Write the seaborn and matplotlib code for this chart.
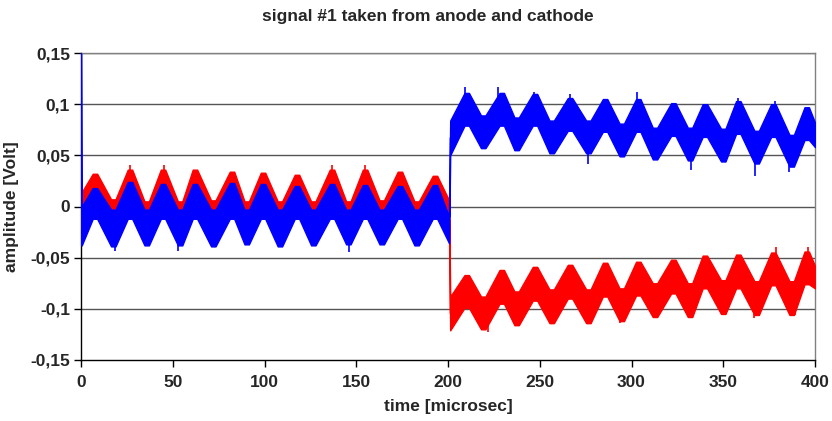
import numpy as np
import pandas as pd
import matplotlib
matplotlib.use("Agg")
import matplotlib.pyplot as plt
import seaborn as sns

# ---- data ----
# Each noisy trace is described by its envelope: short plateau segments (start..end time)
# around every peak / trough, with the low and high edge of the noise band there.
seg_start = [0, 0.4, 6.4, 16.4, 25.5, 34.6, 43.5, 52.8, 60.9, 70.9, 81.1, 89.1, 98.0, 107.2,
             116.5, 125.4, 135.6, 144.5, 153.6, 162.7, 172.6, 181.7, 191.7, 200.6,
             201.2, 209.0, 218.0, 228.1, 236.2, 246.2, 255.3, 265.3, 275.3, 284.4, 293.5,
             302.5, 311.6, 321.6, 330.7, 338.8, 348.8, 357.0, 367.0, 376.1, 386.1, 394.3, 400]
seg_end = [0, 0.4, 8.8, 18.8, 27.9, 37.0, 45.9, 55.2, 63.3, 73.3, 83.5, 91.5, 100.4, 109.6,
           118.9, 127.8, 138.0, 146.9, 156.0, 165.1, 175.0, 184.1, 194.1, 200.6,
           201.2, 211.4, 220.4, 230.5, 238.6, 248.6, 257.7, 267.7, 277.7, 286.8, 295.9,
           304.9, 314.0, 324.0, 333.1, 341.2, 351.2, 359.4, 369.4, 378.5, 388.5, 396.7, 400]

red_low = [-0.012, -0.012, -0.002, -0.014, 0.000, -0.014, 0.000, -0.014, 0.000, -0.014,
           0.000, -0.014, -0.001, -0.014, -0.001, -0.014, 0.000, -0.014, 0.000, -0.014,
           0.000, -0.014, -0.001, -0.012,
           -0.121, -0.099, -0.120, -0.095, -0.116, -0.092, -0.114, -0.090, -0.114, -0.088,
           -0.112, -0.087, -0.108, -0.085, -0.108, -0.080, -0.105, -0.080, -0.106, -0.077,
           -0.106, -0.076, -0.080]
red_high = [0.014, 0.014, 0.032, 0.007, 0.036, 0.005, 0.036, 0.005, 0.036, 0.006,
            0.034, 0.005, 0.033, 0.005, 0.031, 0.005, 0.036, 0.005, 0.036, 0.006,
            0.034, 0.005, 0.030, 0.006,
            -0.088, -0.067, -0.088, -0.062, -0.083, -0.059, -0.081, -0.057, -0.081, -0.055,
            -0.080, -0.054, -0.075, -0.052, -0.075, -0.048, -0.072, -0.047, -0.073, -0.045,
            -0.073, -0.044, -0.058]

blue_low = [-0.038, -0.038, -0.012, -0.039, -0.012, -0.038, -0.012, -0.038, -0.012, -0.039,
            -0.012, -0.037, -0.012, -0.039, -0.012, -0.038, -0.012, -0.037, -0.012, -0.037,
            -0.012, -0.038, -0.012, -0.036,
            0.050, 0.079, 0.057, 0.079, 0.055, 0.079, 0.052, 0.074, 0.052, 0.073,
            0.049, 0.073, 0.046, 0.069, 0.045, 0.068, 0.044, 0.071, 0.042, 0.068,
            0.039, 0.065, 0.058]
blue_high = [0.150, 0.000, 0.018, -0.003, 0.024, -0.003, 0.022, -0.003, 0.022, -0.003,
             0.023, -0.003, 0.022, -0.003, 0.020, -0.003, 0.022, -0.003, 0.021, -0.003,
             0.020, -0.003, 0.021, -0.010,
             0.084, 0.111, 0.089, 0.111, 0.087, 0.110, 0.084, 0.106, 0.084, 0.105,
             0.081, 0.105, 0.077, 0.101, 0.077, 0.100, 0.076, 0.103, 0.074, 0.100,
             0.070, 0.097, 0.082]

# isolated noise spikes sticking out of the bands (time, from, to)
red_spike_t = [26.5, 45.0, 137.0, 155.0, 379.0, 396.0, 221.8, 276.5, 294.0, 367.0, 389.0]
red_spike_from = [0.030, 0.030, 0.030, 0.030, -0.050, -0.050, -0.115, -0.110, -0.108, -0.102, -0.100]
red_spike_to = [0.041, 0.041, 0.041, 0.041, -0.040, -0.040, -0.123, -0.115, -0.114, -0.109, -0.106]

blue_spike_t = [209.5, 227.4, 246.6, 266.7, 303.0, 358.3, 378.3, 276.5, 332.6, 367.1, 386.0,
                18.5, 53.0, 146.0]
blue_spike_from = [0.105, 0.105, 0.105, 0.100, 0.100, 0.098, 0.095, 0.057, 0.050, 0.047, 0.043,
                   -0.035, -0.035, -0.035]
blue_spike_to = [0.117, 0.117, 0.112, 0.110, 0.112, 0.106, 0.103, 0.042, 0.036, 0.030, 0.034,
                 -0.043, -0.043, -0.044]

x_ticks = [0, 50, 100, 150, 200, 250, 300, 350, 400]
y_ticks = [-0.15, -0.10, -0.05, 0.0, 0.05, 0.10, 0.15]
y_tick_labels = ["-0,15", "-0,1", "-0,05", "0", "0,05", "0,1", "0,15"]

title = "signal #1 taken from anode and cathode"
x_label = "time [microsec]"
y_label = "amplitude [Volt]"

# ---- long-form table: low / high rows at the start and end of every segment ----
rows = []
for name, lo, hi in (("anode", red_low, red_high), ("cathode", blue_low, blue_high)):
    for t0, t1, a, b in zip(seg_start, seg_end, lo, hi):
        for t in sorted({t0, t1}):
            rows.append((name, t, a))
            rows.append((name, t, b))
df = pd.DataFrame(rows, columns=["trace", "time", "amplitude"])

sns.set_theme(style="white")
plt.rcParams["font.family"] = ["Liberation Sans", "DejaVu Sans"]

fig = plt.figure(figsize=(8.32, 4.21), dpi=100)
ax = fig.add_axes([81 / 832, 1 - 360 / 421, (815 - 81) / 832, (360 - 53) / 421])

colors = {"anode": "#ff0000", "cathode": "#0000ff"}
sns.lineplot(data=df, x="time", y="amplitude", hue="trace",
             hue_order=["anode", "cathode"], palette=colors,
             estimator="mean", errorbar=("pi", 100), linewidth=0.8,
             err_kws={"alpha": 1.0, "linewidth": 1.0}, legend=False, ax=ax)
for coll, col in zip(ax.collections, ["#ff0000", "#0000ff"]):
    coll.set_edgecolor(col)
    coll.set_zorder(3 if col == "#ff0000" else 5)
for line, col in zip(ax.lines, ["#ff0000", "#0000ff"]):
    line.set_zorder(3 if col == "#ff0000" else 5)

ax.vlines(red_spike_t, red_spike_from, red_spike_to, color=colors["anode"], lw=1.2, zorder=3)
ax.vlines(blue_spike_t, blue_spike_from, blue_spike_to, color=colors["cathode"], lw=1.2, zorder=5)

ax.set_xlim(0, 400)
ax.set_ylim(-0.15, 0.15)
ax.set_xticks(x_ticks)
ax.set_xticklabels([str(v) for v in x_ticks])
ax.set_yticks(y_ticks)
ax.set_yticklabels(y_tick_labels)

for y in y_ticks[1:]:
    ax.axhline(y, color="#555555", lw=1.0, zorder=1)

for s in ("left", "bottom"):
    ax.spines[s].set_color("black")
    ax.spines[s].set_linewidth(1.0)
for s in ("top", "right"):
    ax.spines[s].set_color("#808080")
    ax.spines[s].set_linewidth(1.0)

ax.tick_params(axis="y", which="major", direction="out", length=5, width=1,
               color="black", labelsize=12.5, pad=3, left=True)
ax.tick_params(axis="x", which="major", direction="out", length=5, width=1,
               color="black", labelsize=12.5, pad=6, bottom=True)
for lab in ax.get_xticklabels() + ax.get_yticklabels():
    lab.set_fontweight("bold")

ax.set_xlabel(x_label, fontsize=12.5, fontweight="bold", labelpad=6)
ax.set_ylabel(y_label, fontsize=12.5, fontweight="bold", labelpad=8)
fig.text(428 / 832, 1 - 16 / 421, title, ha="center", va="center",
         fontsize=12.5, fontweight="bold")

fig.savefig("out.png", dpi=100, facecolor="white")
